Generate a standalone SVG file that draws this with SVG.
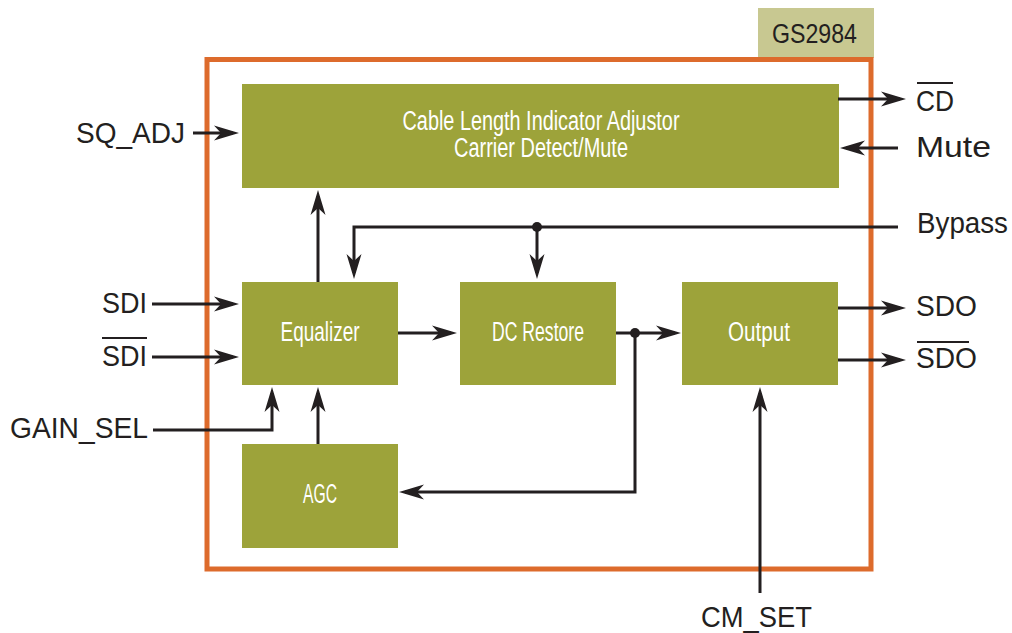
<svg xmlns="http://www.w3.org/2000/svg" width="1012" height="633" viewBox="0 0 1012 633">
<style>
.blk{fill:#9DA33A}
.wt{fill:#FFFFFF;font-family:"Liberation Sans Narrow","Liberation Sans",Arial,sans-serif;font-size:27px;text-anchor:middle}
.lb{fill:#231F20;font-family:"Liberation Sans",Arial,sans-serif;font-size:29px}
.ln{fill:none;stroke:#231F20;stroke-width:3;stroke-linejoin:miter}
.ov{stroke:#231F20;stroke-width:2}
</style>
<defs>
<marker id="ah" markerUnits="userSpaceOnUse" viewBox="-20 -10 32 20" refX="0" refY="0" markerWidth="32" markerHeight="20" orient="auto" overflow="visible">
<path d="M6,0 L-19,-7.5 L-12,0 L-19,7.5 Z" fill="#231F20"/>
</marker>
</defs>
<rect x="758" y="8" width="116" height="50" fill="#C8C891"/>
<text x="814.5" y="43" font-family="Liberation Sans Narrow,Liberation Sans,Arial,sans-serif" font-size="27" text-anchor="middle" fill="#231F20" textLength="85" lengthAdjust="spacingAndGlyphs">GS2984</text>
<rect id="chip" x="207" y="59.5" width="664" height="509.5" fill="none" stroke="#DD6B2C" stroke-width="5"/>
<g id="cld">
<rect class="blk" x="242" y="84" width="597" height="104"/>
<text class="wt" x="541" y="130" textLength="277" lengthAdjust="spacingAndGlyphs">Cable Length Indicator Adjustor</text>
<text class="wt" x="541" y="157" textLength="174" lengthAdjust="spacingAndGlyphs">Carrier Detect/Mute</text>
</g>
<g id="equalizer">
<rect class="blk" x="242" y="282" width="156" height="103"/>
<text class="wt" x="320" y="341" textLength="79" lengthAdjust="spacingAndGlyphs">Equalizer</text>
</g>
<g id="dcrestore">
<rect class="blk" x="460" y="282" width="156" height="103"/>
<text class="wt" x="538" y="341" textLength="92" lengthAdjust="spacingAndGlyphs">DC Restore</text>
</g>
<g id="output">
<rect class="blk" x="682" y="282" width="156" height="103"/>
<text class="wt" x="759" y="341" textLength="62" lengthAdjust="spacingAndGlyphs">Output</text>
</g>
<g id="agc">
<rect class="blk" x="242" y="444" width="156" height="104"/>
<text class="wt" x="320" y="503" textLength="34" lengthAdjust="spacingAndGlyphs">AGC</text>
</g>
<g id="connectors">
<line class="ln" x1="193" y1="133" x2="233" y2="133" marker-end="url(#ah)"/>
<line class="ln" x1="152" y1="304" x2="233" y2="304" marker-end="url(#ah)"/>
<line class="ln" x1="152" y1="357" x2="233" y2="357" marker-end="url(#ah)"/>
<polyline class="ln" points="153,430 272,430 272,393" marker-end="url(#ah)"/>
<line class="ln" x1="318" y1="444" x2="318" y2="393" marker-end="url(#ah)"/>
<line class="ln" x1="318" y1="282" x2="318" y2="196" marker-end="url(#ah)"/>
<polyline class="ln" points="898,227 354,227 354,273" marker-end="url(#ah)"/>
<line class="ln" x1="537" y1="227" x2="537" y2="273" marker-end="url(#ah)"/>
<circle cx="537" cy="227" r="5" fill="#231F20"/>
<line class="ln" x1="398" y1="333" x2="451" y2="333" marker-end="url(#ah)"/>
<line class="ln" x1="616" y1="333" x2="675" y2="333" marker-end="url(#ah)"/>
<circle cx="635" cy="333" r="5" fill="#231F20"/>
<polyline class="ln" points="635,333 635,492 405,492" marker-end="url(#ah)"/>
<line class="ln" x1="838" y1="308" x2="900" y2="308" marker-end="url(#ah)"/>
<line class="ln" x1="838" y1="360" x2="900" y2="360" marker-end="url(#ah)"/>
<line class="ln" x1="838" y1="99" x2="900" y2="99" marker-end="url(#ah)"/>
<line class="ln" x1="898" y1="148" x2="846" y2="148" marker-end="url(#ah)"/>
<line class="ln" x1="760" y1="593" x2="760" y2="393" marker-end="url(#ah)"/>
</g>
<g id="labels">
<text class="lb" x="76" y="143" textLength="109" lengthAdjust="spacingAndGlyphs">SQ_ADJ</text>
<text class="lb" x="102" y="313" textLength="45" lengthAdjust="spacingAndGlyphs">SDI</text>
<text class="lb" x="102" y="366" textLength="45" lengthAdjust="spacingAndGlyphs">SDI</text>
<line class="ov" x1="102" y1="338" x2="147" y2="338"/>
<text class="lb" x="10" y="438" textLength="138" lengthAdjust="spacingAndGlyphs">GAIN_SEL</text>
<text class="lb" x="916" y="111" textLength="38" lengthAdjust="spacingAndGlyphs">CD</text>
<line class="ov" x1="917" y1="83" x2="953" y2="83"/>
<text class="lb" x="916" y="157" textLength="75" lengthAdjust="spacingAndGlyphs">Mute</text>
<text class="lb" x="917" y="233" textLength="91" lengthAdjust="spacingAndGlyphs">Bypass</text>
<text class="lb" x="916" y="316" textLength="61" lengthAdjust="spacingAndGlyphs">SDO</text>
<text class="lb" x="916" y="368" textLength="61" lengthAdjust="spacingAndGlyphs">SDO</text>
<line class="ov" x1="917" y1="342" x2="969" y2="342"/>
<text class="lb" x="701" y="627" textLength="111" lengthAdjust="spacingAndGlyphs">CM_SET</text>
</g>
</svg>
